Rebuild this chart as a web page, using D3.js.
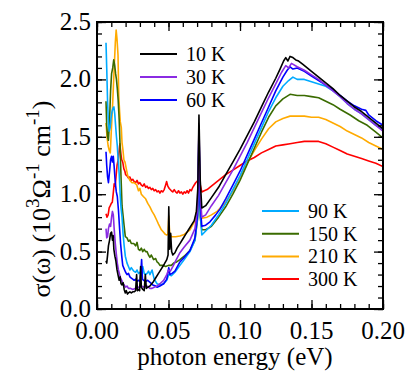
<!DOCTYPE html>
<html>
<head>
<meta charset="utf-8">
<script src="https://cdn.jsdelivr.net/npm/d3@7"></script>
</head>
<body style="margin:0">
<svg id="chart" width="406" height="374"></svg>
<script>
// temperatures and colours of the seven spectra
const temps = ['10 K', '30 K', '60 K', '90 K', '150 K', '210 K', '300 K'];
const colors = ['#000000', '#8a2be2', '#0000ff', '#00aaff', '#3a6b00', '#ffaa00', '#ff0000'];

// [photon energy (eV), sigma (10^3 Ohm^-1 cm^-1)]
const t10 = [[0.0063,0.42],[0.0068,0.40],[0.0074,0.47],[0.008,0.55],[0.0088,0.60],[0.0095,0.66],[0.0102,0.67],[0.0108,0.60],[0.0113,0.64],[0.0118,0.52],[0.0125,0.46],[0.0132,0.42],[0.014,0.34],[0.0148,0.29],[0.0155,0.25],[0.0162,0.28],[0.0168,0.22],[0.0175,0.21],[0.0183,0.23],[0.019,0.17],[0.0198,0.14],[0.0205,0.16],[0.0213,0.13],[0.022,0.14],[0.023,0.15],[0.024,0.14],[0.025,0.15],[0.026,0.15],[0.027,0.16],[0.0277,0.30],[0.0283,0.16],[0.029,0.17],[0.0298,0.16],[0.0305,0.37],[0.031,0.19],[0.032,0.17],[0.033,0.16],[0.0338,0.30],[0.0345,0.18],[0.0355,0.19],[0.037,0.20],[0.039,0.23],[0.041,0.27],[0.043,0.31],[0.045,0.35],[0.047,0.39],[0.0488,0.43],[0.0497,0.47],[0.0502,0.89],[0.0508,0.52],[0.0515,0.66],[0.0522,0.50],[0.053,0.47],[0.0545,0.49],[0.056,0.53],[0.058,0.57],[0.060,0.61],[0.062,0.65],[0.064,0.69],[0.066,0.73],[0.068,0.77],[0.0695,0.85],[0.0705,1.05],[0.0713,1.69],[0.0722,1.12],[0.0733,0.88],[0.076,0.90],[0.080,0.97],[0.085,1.06],[0.090,1.17],[0.095,1.28],[0.100,1.39],[0.105,1.51],[0.110,1.63],[0.115,1.76],[0.120,1.89],[0.125,2.01],[0.128,2.09],[0.1305,2.16],[0.132,2.19],[0.1335,2.16],[0.135,2.20],[0.137,2.19],[0.139,2.17],[0.141,2.16],[0.144,2.13],[0.147,2.10],[0.150,2.07],[0.155,2.02],[0.160,1.97],[0.165,1.92],[0.170,1.86],[0.175,1.81],[0.180,1.76],[0.185,1.72],[0.190,1.67],[0.195,1.62],[0.200,1.57]];

const t30 = [[0.0063,0.70],[0.0068,0.62],[0.0074,0.63],[0.008,0.70],[0.0088,0.74],[0.0095,0.72],[0.0102,0.80],[0.0108,0.85],[0.0114,0.82],[0.012,0.70],[0.0128,0.57],[0.0135,0.48],[0.0142,0.40],[0.015,0.34],[0.0158,0.30],[0.0165,0.27],[0.0173,0.25],[0.018,0.22],[0.019,0.21],[0.020,0.19],[0.021,0.20],[0.022,0.18],[0.0235,0.18],[0.025,0.17],[0.027,0.18],[0.029,0.19],[0.031,0.20],[0.033,0.19],[0.035,0.20],[0.037,0.18],[0.0385,0.18],[0.040,0.19],[0.042,0.20],[0.044,0.22],[0.0466,0.25],[0.0488,0.30],[0.050,0.34],[0.0513,0.33],[0.053,0.37],[0.055,0.42],[0.058,0.49],[0.061,0.54],[0.065,0.60],[0.0685,0.70],[0.0703,0.88],[0.0713,1.60],[0.0722,1.00],[0.0733,0.80],[0.076,0.82],[0.080,0.90],[0.085,0.99],[0.090,1.10],[0.095,1.21],[0.100,1.33],[0.105,1.45],[0.110,1.58],[0.115,1.71],[0.120,1.84],[0.125,1.96],[0.129,2.06],[0.132,2.12],[0.134,2.10],[0.136,2.14],[0.140,2.11],[0.145,2.08],[0.150,2.04],[0.155,2.00],[0.160,1.95],[0.165,1.90],[0.170,1.85],[0.175,1.79],[0.180,1.74],[0.185,1.70],[0.190,1.65],[0.195,1.60],[0.200,1.55]];

const t60 = [[0.0063,1.37],[0.0068,1.25],[0.0074,1.15],[0.008,1.10],[0.0088,1.20],[0.0095,1.30],[0.0102,1.33],[0.0108,1.28],[0.0114,1.33],[0.012,1.24],[0.0128,1.10],[0.0135,1.02],[0.0142,0.98],[0.015,0.86],[0.0158,0.70],[0.0165,0.57],[0.0173,0.46],[0.018,0.38],[0.019,0.35],[0.020,0.32],[0.021,0.30],[0.022,0.31],[0.023,0.28],[0.024,0.27],[0.025,0.26],[0.026,0.25],[0.027,0.26],[0.028,0.24],[0.029,0.25],[0.0303,0.24],[0.0312,0.43],[0.0318,0.26],[0.0325,0.25],[0.034,0.24],[0.0355,0.25],[0.0373,0.23],[0.039,0.21],[0.041,0.20],[0.042,0.19],[0.044,0.20],[0.0466,0.22],[0.0488,0.26],[0.0502,0.36],[0.051,0.30],[0.0525,0.31],[0.0545,0.33],[0.058,0.41],[0.061,0.45],[0.065,0.51],[0.0685,0.62],[0.0703,0.82],[0.0713,1.55],[0.0722,0.90],[0.0733,0.72],[0.076,0.73],[0.079,0.76],[0.083,0.82],[0.086,0.87],[0.090,0.96],[0.095,1.08],[0.100,1.20],[0.105,1.34],[0.110,1.48],[0.115,1.62],[0.120,1.76],[0.125,1.90],[0.130,2.02],[0.133,2.08],[0.135,2.11],[0.137,2.09],[0.140,2.10],[0.145,2.07],[0.150,2.03],[0.155,1.99],[0.160,1.95],[0.165,1.91],[0.170,1.86],[0.175,1.81],[0.180,1.77],[0.185,1.74],[0.188,1.73],[0.190,1.69],[0.195,1.64],[0.200,1.60]];

const t90 = [[0.0063,2.32],[0.0068,2.10],[0.0074,1.80],[0.008,1.62],[0.0086,1.55],[0.0092,1.58],[0.0098,1.66],[0.0105,1.72],[0.0112,1.75],[0.0118,1.76],[0.0124,1.70],[0.013,1.60],[0.0136,1.50],[0.0142,1.42],[0.0148,1.30],[0.0155,1.18],[0.0162,1.00],[0.0168,0.88],[0.0175,0.80],[0.0182,0.66],[0.019,0.55],[0.0198,0.46],[0.021,0.40],[0.022,0.37],[0.023,0.34],[0.024,0.36],[0.0257,0.33],[0.027,0.32],[0.028,0.34],[0.029,0.31],[0.030,0.32],[0.031,0.30],[0.032,0.37],[0.033,0.31],[0.034,0.30],[0.035,0.31],[0.036,0.33],[0.037,0.30],[0.0385,0.34],[0.040,0.26],[0.042,0.22],[0.044,0.21],[0.0466,0.22],[0.0488,0.25],[0.0502,0.30],[0.052,0.29],[0.0545,0.32],[0.058,0.38],[0.061,0.43],[0.065,0.50],[0.0685,0.60],[0.0703,0.80],[0.0713,1.45],[0.0722,0.85],[0.0733,0.645],[0.076,0.68],[0.080,0.73],[0.085,0.82],[0.090,0.92],[0.095,1.04],[0.100,1.16],[0.105,1.30],[0.110,1.44],[0.115,1.58],[0.120,1.72],[0.125,1.84],[0.130,1.94],[0.134,1.99],[0.137,2.02],[0.140,2.00],[0.145,2.00],[0.150,1.98],[0.155,1.96],[0.160,1.94],[0.165,1.90],[0.170,1.85],[0.175,1.79],[0.180,1.74],[0.185,1.70],[0.190,1.65],[0.195,1.60],[0.200,1.56]];

const t150 = [[0.0063,1.81],[0.0068,1.60],[0.0074,1.50],[0.008,1.47],[0.0088,1.65],[0.0095,1.90],[0.0102,2.05],[0.011,2.10],[0.0117,2.17],[0.0124,2.12],[0.013,2.05],[0.0136,2.00],[0.0142,1.92],[0.0148,1.82],[0.0155,1.65],[0.0162,1.40],[0.0168,1.15],[0.0175,0.90],[0.018,0.84],[0.019,0.72],[0.0198,0.63],[0.021,0.62],[0.022,0.59],[0.023,0.60],[0.024,0.57],[0.0257,0.57],[0.027,0.55],[0.028,0.58],[0.029,0.52],[0.030,0.51],[0.031,0.53],[0.032,0.50],[0.033,0.52],[0.034,0.50],[0.035,0.50],[0.036,0.47],[0.037,0.45],[0.038,0.47],[0.0396,0.43],[0.041,0.44],[0.042,0.41],[0.043,0.40],[0.044,0.38],[0.046,0.38],[0.048,0.37],[0.050,0.38],[0.052,0.38],[0.0536,0.40],[0.0557,0.41],[0.058,0.43],[0.061,0.46],[0.065,0.51],[0.0685,0.60],[0.0703,0.78],[0.0713,1.25],[0.0722,0.80],[0.0733,0.69],[0.076,0.69],[0.080,0.72],[0.085,0.80],[0.090,0.89],[0.095,1.00],[0.100,1.12],[0.105,1.26],[0.110,1.40],[0.115,1.54],[0.120,1.67],[0.125,1.77],[0.130,1.83],[0.135,1.87],[0.140,1.86],[0.145,1.86],[0.150,1.85],[0.155,1.84],[0.160,1.81],[0.165,1.78],[0.170,1.74],[0.177,1.69],[0.183,1.64],[0.189,1.60],[0.195,1.54],[0.200,1.49]];

const t210 = [[0.0063,1.62],[0.007,1.50],[0.0078,1.42],[0.0086,1.38],[0.0093,1.36],[0.010,1.55],[0.0108,1.75],[0.0115,1.95],[0.0122,2.15],[0.0128,2.32],[0.0134,2.43],[0.014,2.35],[0.0147,2.21],[0.0152,1.86],[0.0158,1.72],[0.0163,1.63],[0.017,1.58],[0.0175,1.45],[0.0182,1.38],[0.0188,1.30],[0.0196,1.28],[0.0205,1.22],[0.0215,1.16],[0.023,1.12],[0.0245,1.10],[0.026,1.10],[0.0278,1.08],[0.029,1.03],[0.030,1.05],[0.031,1.00],[0.0324,0.98],[0.034,0.96],[0.0355,0.92],[0.037,0.89],[0.0385,0.85],[0.040,0.82],[0.0417,0.775],[0.043,0.74],[0.045,0.69],[0.0464,0.67],[0.0478,0.65],[0.0487,0.645],[0.0496,0.65],[0.0502,0.81],[0.0508,0.66],[0.052,0.63],[0.055,0.63],[0.058,0.636],[0.061,0.65],[0.065,0.69],[0.0685,0.77],[0.0703,0.90],[0.0713,1.15],[0.0722,0.88],[0.0733,0.79],[0.077,0.80],[0.080,0.82],[0.084,0.85],[0.090,0.93],[0.095,1.03],[0.100,1.15],[0.105,1.27],[0.110,1.38],[0.115,1.48],[0.120,1.57],[0.125,1.63],[0.130,1.66],[0.135,1.68],[0.140,1.68],[0.145,1.68],[0.150,1.67],[0.155,1.67],[0.160,1.65],[0.165,1.62],[0.170,1.59],[0.175,1.55],[0.180,1.52],[0.185,1.49],[0.190,1.45],[0.195,1.42],[0.200,1.39]];

const t300 = [[0.0063,0.83],[0.007,0.80],[0.0078,0.82],[0.0085,0.88],[0.0093,0.90],[0.010,0.92],[0.0107,0.93],[0.0113,1.00],[0.012,1.09],[0.0127,1.07],[0.0133,1.15],[0.014,1.25],[0.0148,1.30],[0.0155,1.38],[0.016,1.44],[0.0167,1.35],[0.0173,1.30],[0.018,1.28],[0.0188,1.22],[0.0195,1.20],[0.020,1.17],[0.021,1.16],[0.022,1.14],[0.023,1.15],[0.024,1.12],[0.025,1.13],[0.026,1.11],[0.027,1.10],[0.028,1.12],[0.029,1.09],[0.030,1.10],[0.031,1.08],[0.032,1.07],[0.033,1.09],[0.034,1.06],[0.035,1.07],[0.036,1.05],[0.037,1.06],[0.038,1.04],[0.039,1.05],[0.040,1.03],[0.041,1.04],[0.042,1.02],[0.043,1.03],[0.044,1.01],[0.045,1.03],[0.046,1.02],[0.047,1.04],[0.048,1.08],[0.0487,1.11],[0.0495,1.07],[0.0505,1.05],[0.052,1.03],[0.053,1.02],[0.054,1.04],[0.055,1.02],[0.056,1.01],[0.057,1.03],[0.058,1.01],[0.059,1.02],[0.060,1.00],[0.061,1.02],[0.062,1.01],[0.063,1.03],[0.064,1.01],[0.065,1.04],[0.066,1.03],[0.067,1.06],[0.068,1.08],[0.069,1.10],[0.0705,1.12],[0.0713,1.14],[0.0722,1.08],[0.0733,1.02],[0.075,1.03],[0.077,1.04],[0.080,1.07],[0.085,1.12],[0.090,1.17],[0.095,1.21],[0.100,1.25],[0.105,1.29],[0.110,1.32],[0.115,1.36],[0.120,1.39],[0.125,1.42],[0.130,1.43],[0.135,1.44],[0.140,1.45],[0.145,1.46],[0.150,1.46],[0.155,1.46],[0.160,1.44],[0.165,1.41],[0.170,1.38],[0.175,1.35],[0.180,1.33],[0.185,1.31],[0.190,1.29],[0.195,1.27],[0.200,1.24]];

const spectra = [t10, t30, t60, t90, t150, t210, t300];

// tick values
const xMinor = d3.range(0, 0.2001, 0.01);
const xMajor = [0, 0.05, 0.1, 0.15, 0.2];
const yMinor = d3.range(0, 2.5001, 0.1);
const yMajor = [0, 0.5, 1.0, 1.5, 2.0, 2.5];

const FONT = 'Liberation Serif';

const svg = d3.select('#chart');
const mLeft = 97, mRight = 383, mTop = 22, mBottom = 309;

const x = d3.scaleLinear().domain([0, 0.2]).range([mLeft, mRight]);
const y = d3.scaleLinear().domain([0, 2.5]).range([mBottom, mTop]);

svg.append('clipPath').attr('id', 'plot')
  .append('rect').attr('x', mLeft).attr('y', mTop)
  .attr('width', mRight - mLeft).attr('height', mBottom - mTop);

// curves, 300 K first so 10 K ends up on top
const line = d3.line().x(d => x(d[0])).y(d => y(d[1]));
const curves = svg.append('g').attr('clip-path', 'url(#plot)');
for (let i = spectra.length - 1; i >= 0; i--) {
  curves.append('path')
    .datum(spectra[i])
    .attr('d', line)
    .attr('fill', 'none')
    .attr('stroke', colors[i])
    .attr('stroke-width', 1.6)
    .attr('stroke-linejoin', 'round');
}

// inward ticks on all four sides, labels only bottom and left
function ticks(make, tr, minor, major) {
  [[minor, 5], [major, 9]].forEach(([vals, len]) => {
    const g = svg.append('g').attr('transform', tr)
      .call(make().tickValues(vals).tickSize(-len).tickSizeOuter(0).tickFormat(''));
    g.select('.domain').remove();
    g.selectAll('text').remove();
    g.selectAll('line').attr('stroke', '#000').attr('stroke-width', 1.3);
  });
}
ticks(() => d3.axisBottom(x), `translate(0,${mBottom})`, xMinor, xMajor);
ticks(() => d3.axisTop(x), `translate(0,${mTop})`, xMinor, xMajor);
ticks(() => d3.axisLeft(y), `translate(${mLeft},0)`, yMinor, yMajor);
ticks(() => d3.axisRight(y), `translate(${mRight},0)`, yMinor, yMajor);

// tick labels as plain text, placed with the scales
svg.append('g').selectAll('text').data(xMajor).join('text')
  .attr('x', d => x(d)).attr('y', mBottom + 30)
  .attr('text-anchor', 'middle')
  .attr('font-family', FONT).attr('font-size', 25)
  .text(d3.format('.2f'));
svg.append('g').selectAll('text').data(yMajor).join('text')
  .attr('x', mLeft - 6).attr('y', d => y(d) + 8)
  .attr('text-anchor', 'end')
  .attr('font-family', FONT).attr('font-size', 25)
  .text(d3.format('.1f'));

// frame
svg.append('rect')
  .attr('x', mLeft).attr('y', mTop)
  .attr('width', mRight - mLeft).attr('height', mBottom - mTop)
  .attr('fill', 'none').attr('stroke', '#000').attr('stroke-width', 2);

// axis titles
svg.append('text')
  .attr('x', 235).attr('y', 365)
  .attr('text-anchor', 'middle')
  .attr('font-family', FONT)
  .attr('font-size', 25)
  .text('photon energy (eV)');

const yt = svg.append('text')
  .attr('transform', 'translate(50,199) rotate(-90)')
  .attr('text-anchor', 'middle')
  .attr('font-family', FONT)
  .attr('font-size', 26);
yt.append('tspan').text('σ(ω)  (10');
yt.append('tspan').attr('font-size', 19).attr('dy', -11).text('3');
yt.append('tspan').attr('dy', 11).text('Ω');
yt.append('tspan').attr('font-size', 19).attr('dy', -11).text('-1');
yt.append('tspan').attr('dy', 11).text(' cm');
yt.append('tspan').attr('font-size', 19).attr('dy', -11).text('-1');
yt.append('tspan').attr('dy', 11).text(')');

// legends
const legendA = [0, 1, 2], legendB = [3, 4, 5, 6];
function legend(idx, x0, y0, step) {
  idx.forEach((k, j) => {
    const yy = y0 + j * step;
    svg.append('line')
      .attr('x1', x0).attr('x2', x0 + 37)
      .attr('y1', yy).attr('y2', yy)
      .attr('stroke', colors[k]).attr('stroke-width', 2);
    svg.append('text')
      .attr('x', x0 + 46).attr('y', yy + 7)
      .attr('font-family', FONT)
      .attr('font-size', 20)
      .text(temps[k]);
  });
}
legend(legendA, 140, 54, 23);
legend(legendB, 262, 211, 22.7);
</script>
</body>
</html>
